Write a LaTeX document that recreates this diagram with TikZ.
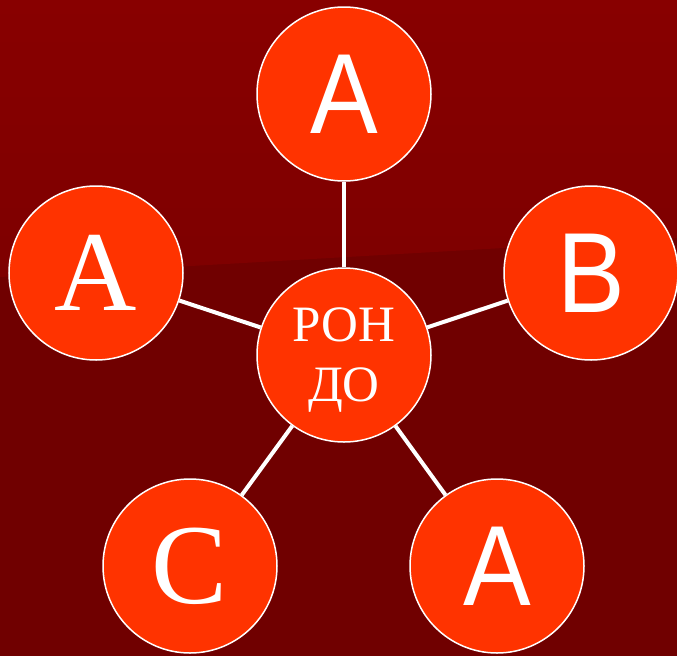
\documentclass[tikz,border=0pt]{standalone}
\usepackage{fontspec}
\newfontfamily\rondosans[FakeStretch=0.89]{Liberation Sans}
\newfontfamily\rondoserif{Liberation Serif}
\definecolor{bgtop}{HTML}{880000}
\definecolor{bgmid}{HTML}{7E0000}
\definecolor{bglow}{HTML}{700000}
\definecolor{partfill}{HTML}{FF3300}

\begin{document}
\begin{tikzpicture}[x=1pt,y=-1pt,
    part/.style={circle,draw=white,line width=1.5pt,fill=partfill,
                 minimum size=174pt,inner sep=0pt,text=white},
    sanslbl/.style={font=\rondosans\fontsize{114}{114}\selectfont},
    seriflbl/.style={font=\rondoserif\fontsize{114}{114}\selectfont},
    link/.style={white,line width=4pt}]
\useasboundingbox (0,0) rectangle (677,656);
% background
\fill[bglow] (0,0) rectangle (677,656);
\shade[top color=bgtop,bottom color=bgmid] (0,0) -- (677,0) -- (677,238) -- (0,277) -- cycle;

    \node[part,align=center,text depth=0pt,font=\rondoserif\fontsize{51}{60}\selectfont] (rondo) at (344,355) {РОН\\ДО};
    \node[part,sanslbl] (a1) at (344,94) {A};
    \node[part,sanslbl] (b) at (591,273) {B};
    \node[part,seriflbl] (a2) at (96,273) {A};
    \node[part,seriflbl] (c) at (190,566) {C};
    \node[part,sanslbl] (a3) at (497,566) {A};

    \draw[link] (rondo) -- (a1);
    \draw[link] (rondo) -- (b);
    \draw[link] (rondo) -- (a2);
    \draw[link] (rondo) -- (c);
    \draw[link] (rondo) -- (a3);
\end{tikzpicture}
\end{document}
